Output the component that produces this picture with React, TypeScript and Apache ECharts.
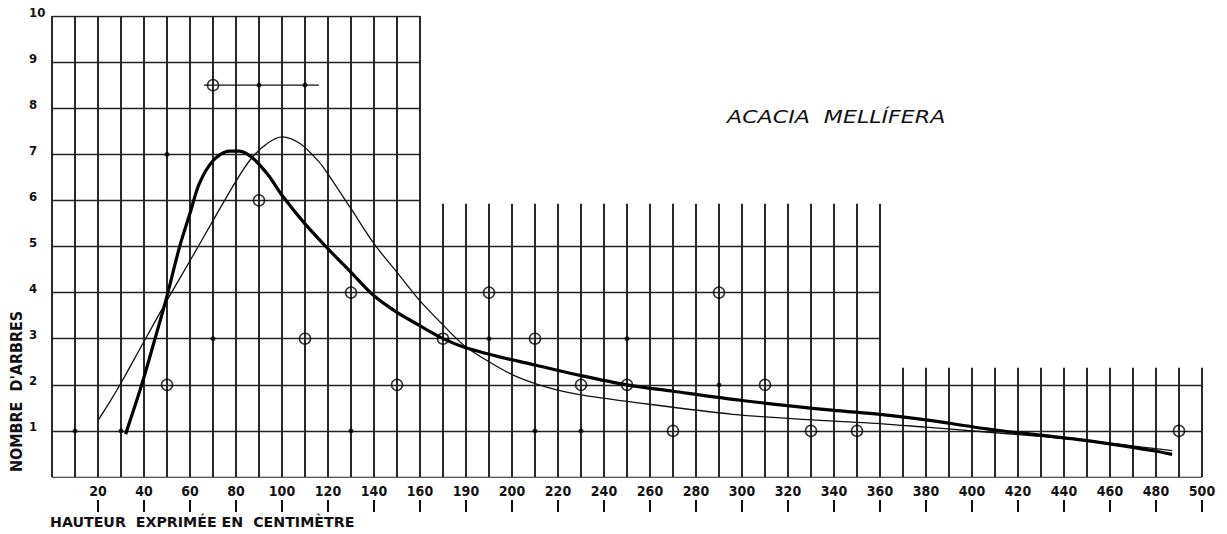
import React, { useEffect, useRef } from "react";
import * as echarts from "echarts";

// ---- data ----
const xTickValues = [20, 40, 60, 80, 100, 120, 140, 160, 180, 200, 220, 240, 260, 280, 300, 320, 340, 360, 380, 400, 420, 440, 460, 480, 500];
const xTickLabels = ["20", "40", "60", "80", "100", "120", "140", "160", "190", "200", "220", "240", "260", "280", "300", "320", "340", "360", "380", "400", "420", "440", "460", "480", "500"];
const yTickValues = [1, 2, 3, 4, 5, 6, 7, 8, 9, 10];
const yTickLabels = ["1", "2", "3", "4", "5", "6", "7", "8", "9", "10"];

// open circles (observed counts)
const circlePoints: [number, number][] = [
  [70, 8.5], [90, 6], [50, 2], [110, 3], [130, 4], [150, 2], [170, 3], [190, 4], [210, 3],
  [230, 2], [250, 2], [270, 1], [290, 4], [310, 2], [330, 1], [350, 1], [490, 1],
];
// small filled dots
const dotPoints: [number, number][] = [
  [10, 1], [30, 1], [50, 7], [70, 3], [90, 8.5], [110, 8.5], [130, 1], [190, 3],
  [210, 1], [230, 1], [250, 3], [290, 2],
];
// horizontal bar at 8.5
const barLine: [number, number][] = [[66, 8.5], [116, 8.5]];

// thick fitted curve
const thickCurve: [number, number][] = [
  [32, 0.93], [39, 2.0], [44.5, 2.95], [49.5, 3.83], [55.5, 5.0], [60, 5.72], [64, 6.36],
  [70, 6.86], [77, 7.07], [81.5, 7.07], [87, 6.93], [94, 6.55], [100, 6.11], [110, 5.49],
  [120, 4.95], [130, 4.44], [140, 3.93], [150, 3.57], [160, 3.28], [169, 3.03], [179, 2.82],
  [195, 2.6], [210, 2.43], [230, 2.2], [250, 2.0], [270, 1.86], [300, 1.66], [339, 1.45],
  [360, 1.36], [380, 1.24], [410, 1.02], [450, 0.79], [479, 0.57], [487, 0.49],
];
// thin fitted curve
const thinCurve: [number, number][] = [
  [20, 1.23], [25, 1.62], [30, 2.04], [40, 2.94], [50, 3.83], [60, 4.69], [70, 5.56],
  [80, 6.42], [87, 6.93], [94, 7.25], [100, 7.38], [108, 7.23], [116, 6.84], [120, 6.57],
  [130, 5.82], [140, 5.06], [150, 4.44], [160, 3.82], [169, 3.35], [179, 2.86], [190, 2.5],
  [201, 2.2], [215, 1.95], [230, 1.78], [250, 1.64], [296, 1.36], [340, 1.21], [360, 1.16],
  [380, 1.08], [410, 0.96], [450, 0.79], [487, 0.57],
];

// grid paper sections: [from, to, vertical line top, highest horizontal line]
const sections: [number, number, number, number][] = [
  [0, 160, 10, 10],
  [160, 360, 5.93, 5],
  [360, 500, 2.37, 2],
];

const FONT = "'DejaVu Sans Condensed', 'DejaVu Sans', sans-serif";

function buildGridLines() {
  const v: any[] = [];
  const h: any[] = [];
  for (let x = 0; x <= 500; x += 10) {
    let top = 0;
    for (const s of sections) if (x >= s[0] && x <= s[1]) top = Math.max(top, s[2]);
    v.push({ coords: [[x, 0], [x, top]] });
  }
  for (let y = 1; y <= 10; y++) {
    let end = 0;
    for (const s of sections) if (y <= s[3]) end = Math.max(end, s[1]);
    h.push({ coords: [[0, y], [end, y]] });
  }
  h.push({ coords: [[0, 0], [500, 0]] });
  return { v, h };
}

export default function App() {
  const ref = useRef<HTMLDivElement>(null);
  useEffect(() => {
    if (!ref.current) return;
    const chart = echarts.init(ref.current, null, { renderer: "svg" });
    const { v, h } = buildGridLines();
    const labelFor = (val: number) => {
      const i = xTickValues.indexOf(val);
      return i >= 0 ? xTickLabels[i] : "";
    };
    chart.setOption({
      animation: false,
      backgroundColor: "#ffffff",
      grid: { left: 52, right: 25, top: 16, bottom: 57 },
      xAxis: {
        type: "value",
        min: 0,
        max: 500,
        interval: 20,
        axisLine: { show: false },
        axisTick: { show: false },
        splitLine: { show: false },
        axisLabel: {
          customValues: xTickValues,
          formatter: (val: number) => labelFor(val),
          margin: 7,
          color: "#111",
          fontSize: 14,
          fontWeight: "bold",
          fontFamily: FONT,
        },
      },
      yAxis: {
        type: "value",
        min: 0,
        max: 10,
        interval: 1,
        axisLine: { show: false },
        axisTick: { show: false },
        splitLine: { show: false },
        axisLabel: {
          customValues: yTickValues,
          formatter: (val: number) => {
            const i = yTickValues.indexOf(val);
            return i >= 0 ? yTickLabels[i] : "";
          },
          align: "left",
          verticalAlign: "bottom",
          lineHeight: 8,
          margin: 23,
          color: "#111",
          fontSize: 13,
          fontWeight: "bold",
          fontFamily: FONT,
        },
      },
      graphic: [
        {
          type: "text",
          x: 727,
          y: 117,
          scaleX: 1.23,
          style: {
            text: "ACACIA  MELLÍFERA",
            fill: "#111",
            font: "italic 18px 'DejaVu Sans', sans-serif",
            align: "left",
            verticalAlign: "middle",
          },
        },
        {
          type: "text",
          x: 50,
          y: 522,
          scaleX: 1.13,
          style: {
            text: "HAUTEUR  EXPRIMÉE EN  CENTIMÈTRE",
            fill: "#111",
            font: "bold 14px " + FONT,
            align: "left",
            verticalAlign: "middle",
          },
        },
        {
          type: "text",
          x: 17.5,
          y: 472,
          rotation: Math.PI / 2,
          scaleX: 1.066,
          style: {
            text: "NOMBRE  D'ARBRES",
            fill: "#111",
            font: "bold 15px " + FONT,
            verticalAlign: "middle",
            align: "left",
          },
        },
      ],
      series: [
        {
          // small vertical marks under the tick labels
          type: "custom",
          data: xTickValues.map((x) => [x, 0]),
          encode: { x: 0, y: 1 },
          clip: false,
          renderItem: (params: any, api: any) => {
            const p = api.coord([api.value(0), 0]);
            return {
              type: "rect",
              shape: { x: p[0] - 1, y: p[1] + 23, width: 2, height: 12 },
              style: { fill: "#111" },
            };
          },
        },
        {
          type: "lines",
          coordinateSystem: "cartesian2d",
          data: v,
          silent: true,
          z: 1,
          lineStyle: { color: "#111", width: 1.8, opacity: 1 },
        },
        {
          type: "lines",
          coordinateSystem: "cartesian2d",
          data: h,
          silent: true,
          z: 1,
          lineStyle: { color: "#222", width: 1.4, opacity: 1 },
        },
        {
          type: "line",
          data: barLine,
          symbol: "none",
          z: 3,
          lineStyle: { color: "#111", width: 1.3 },
        },
        {
          type: "line",
          data: thinCurve,
          smooth: 0.3,
          symbol: "none",
          z: 4,
          lineStyle: { color: "#111", width: 1.3 },
        },
        {
          type: "line",
          data: thickCurve,
          smooth: 0.3,
          symbol: "none",
          z: 4,
          lineStyle: { color: "#000", width: 3.2 },
        },
        {
          type: "scatter",
          data: dotPoints,
          symbol: "circle",
          symbolSize: 5,
          z: 5,
          itemStyle: { color: "#000" },
        },
        {
          type: "scatter",
          data: circlePoints,
          symbol: "circle",
          symbolSize: 11,
          z: 6,
          itemStyle: { color: "rgba(0,0,0,0)", borderColor: "#000", borderWidth: 1.5 },
        },
      ],
    });
    return () => chart.dispose();
  }, []);
  return <div ref={ref} style={{ width: 1227, height: 534, position: "absolute", left: 0, top: 0 }} />;
}
